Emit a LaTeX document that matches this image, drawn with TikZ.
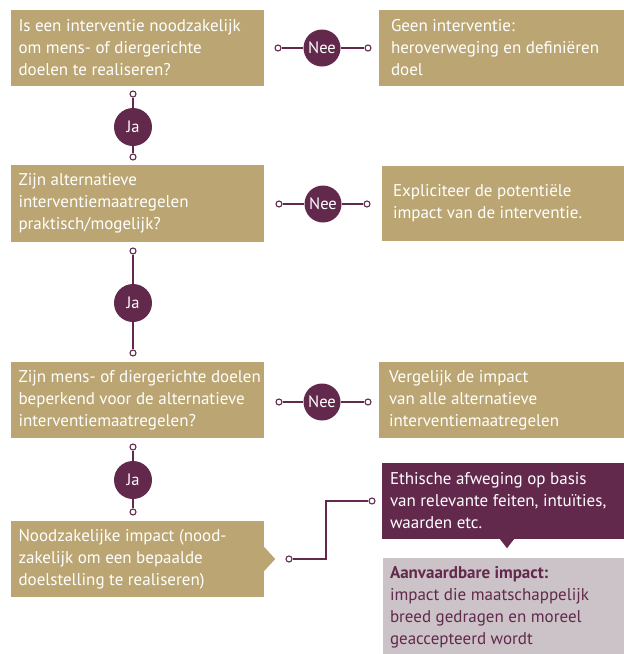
\documentclass[tikz,border=0pt]{standalone}
\usepackage{fontspec}
\setmainfont{PT Sans}
\definecolor{gold}{HTML}{BBA673}
\definecolor{plum}{HTML}{62294C}
\definecolor{greybox}{HTML}{CBC3C7}
\begin{document}
\begin{tikzpicture}[x=1pt,y=-1pt,
  box/.style={fill=gold,inner sep=0pt},
  boxtext/.style={anchor=west,text=white,align=left,inner sep=0pt,
    font=\fontsize{17}{22}\selectfont},
  decision/.style={circle,fill=plum,text=white,inner sep=0pt,minimum size=37pt,
    font=\fontsize{16.5}{18}\selectfont},
  dot/.style={circle,draw=plum,fill=white,line width=1.1pt,inner sep=0pt,minimum size=6pt},
  conn/.style={draw=plum,line width=1.3pt}]
\fill[white] (0,0) rectangle (624,654);
% row 1
\node[box,minimum width=253pt,minimum height=76pt] (L1) at (137.5,48) {};
\node[boxtext] (L1t) at ([xshift=7.5pt]L1.west)
  {Is een interventie noodzakelijk\\om mens- of diergerichte\\doelen te realiseren?};
\node[box,minimum width=245pt,minimum height=76pt] (R1) at (501.5,48) {};
\node[boxtext] (R1t) at ([xshift=12pt]R1.west)
  {Geen interventie:\\heroverweging en definiëren\\doel};
\node[decision] (nee1) at (322,48) {Nee};
\node[dot] (n1a) at (278,48) {};
\node[dot] (n1b) at (368,48) {};
\draw[conn] (n1a) -- (nee1) -- (n1b);
\node[decision,minimum size=38pt] (ja1) at (133,127) {Ja};
\node[dot] (j1a) at (133,94) {};
\node[dot] (j1b) at (133,157) {};
\draw[conn] (j1a) -- (ja1) -- (j1b);
% row 2
\node[box,minimum width=253pt,minimum height=77pt] (L2) at (137.5,203.5) {};
\node[boxtext] (L2t) at ([xshift=7.5pt]L2.west)
  {Zijn alternatieve\\interventiemaatregelen\\praktisch/mogelijk?};
\node[box,minimum width=242pt,minimum height=75pt] (R2) at (503,203.5) {};
\node[boxtext] (R2t) at ([xshift=11pt]R2.west)
  {Expliciteer de potentiële\\impact van de interventie.};
\node[decision] (nee2) at (323,204) {Nee};
\node[dot] (n2a) at (279,204) {};
\node[dot] (n2b) at (367,204) {};
\draw[conn] (n2a) -- (nee2) -- (n2b);
\node[decision,minimum size=38pt] (ja2) at (133,303) {Ja};
\node[dot] (j2a) at (133,251) {};
\node[dot] (j2b) at (133,353) {};
\draw[conn] (j2a) -- (ja2) -- (j2b);
% row 3
\node[box,minimum width=253pt,minimum height=76pt] (L3) at (137.5,400) {};
\node[boxtext] (L3t) at ([xshift=7.5pt]L3.west)
  {Zijn mens- of diergerichte doelen\\beperkend voor de alternatieve\\interventiemaatregelen?};
\node[box,minimum width=245pt,minimum height=76pt] (R3) at (501.5,400) {};
\node[boxtext] (R3t) at ([xshift=10pt]R3.west)
  {Vergelijk de impact\\van alle alternatieve\\interventiemaatregelen};
\node[decision] (nee3) at (322,402) {Nee};
\node[dot] (n3a) at (279,402) {};
\node[dot] (n3b) at (368,402) {};
\draw[conn] (n3a) -- (nee3) -- (n3b);
\node[decision,minimum size=38pt] (ja3) at (133,480) {Ja};
\node[dot] (j3a) at (133,447) {};
\node[dot] (j3b) at (133,512) {};
\draw[conn] (j3a) -- (ja3) -- (j3b);
% row 4
\node[box,minimum width=253pt,minimum height=76pt] (L4) at (137.5,559) {};
\node[boxtext] (L4t) at ([xshift=7.5pt]L4.west)
  {Noodzakelijke impact (nood-\\zakelijk om een bepaalde\\doelstelling te realiseren)};
\fill[gold] ([yshift=12pt]L4.east) -- ([xshift=11pt]L4.east) -- ([yshift=-12pt]L4.east) -- cycle;
\node[box,fill=plum,minimum width=242pt,minimum height=76pt] (P) at (503,501) {};
\node[boxtext] (Pt) at ([xshift=8pt]P.west)
  {Ethische afweging op basis\\van relevante feiten, intuïties,\\waarden etc.};
\fill[plum] ([xshift=-3pt]P.south) -- ([xshift=4pt,yshift=-9pt]P.south) -- ([xshift=11pt]P.south) -- cycle;
\node[box,fill=greybox,minimum width=241pt,minimum height=96pt] (G) at (503.5,606) {};
\node[boxtext,text=plum] (Gt) at ([xshift=7pt,yshift=-1pt]G.west)
  {\textbf{Aanvaardbare impact:}\\impact die maatschappelijk\\breed gedragen en moreel\\geaccepteerd wordt};
\node[dot] (c4a) at (289,559) {};
\node[dot] (c4b) at (372,501) {};
\coordinate (elbow) at (326,530);
\draw[conn] (c4a) -| (elbow) |- (c4b);
\end{tikzpicture}
\end{document}
